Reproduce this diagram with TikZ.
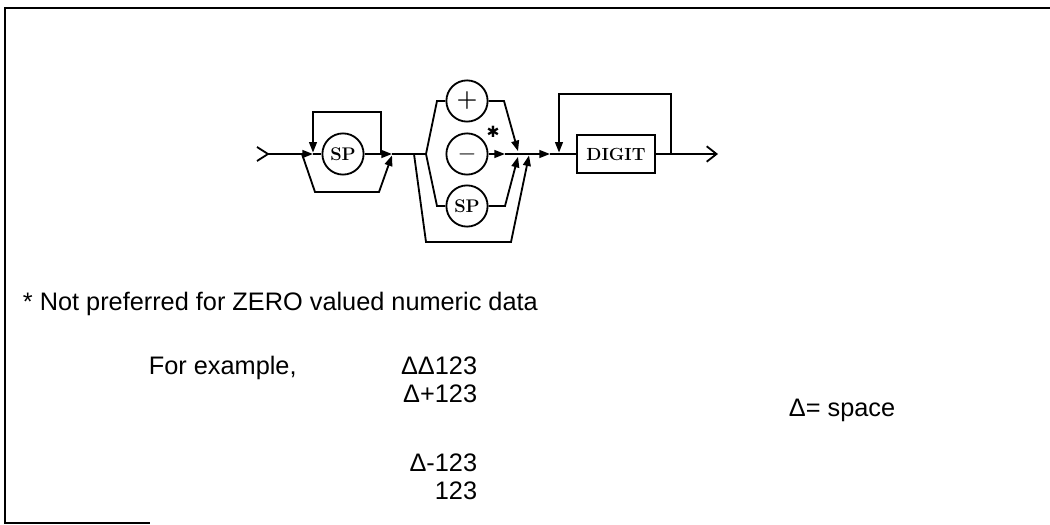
\documentclass[tikz,border=0pt]{standalone}
\usepackage{fontspec}
\newfontfamily\helv{Liberation Sans}
\newfontfamily\symb{DejaVu Sans}
\usetikzlibrary{arrows.meta,positioning}

\begin{document}
\begin{tikzpicture}[x=0.025cm, y=-0.025cm, line width=1.3pt,
  arr/.style={-{Triangle[length=7.5pt,width=5.5pt]}},
  term/.style={circle, draw, minimum size=1.03cm, inner sep=0pt,
    font=\fontsize{13}{15}\selectfont\bfseries},
  sign/.style={term, font=\fontsize{17}{17}\selectfont\bfseries},
  nonterm/.style={rectangle, draw, minimum width=1.95cm, minimum height=0.95cm,
    inner sep=0pt, font=\fontsize{12.5}{15}\selectfont\bfseries},
  note/.style={anchor=base west, inner sep=0pt, font=\helv\fontsize{18}{21}\selectfont},
  example/.style={note, anchor=base east}]
\useasboundingbox (0,0) rectangle (1050,525);

% frame
\draw[line width=1.6pt] (1050,8) -- (5,8) -- (5,523) -- (150,523);

% terms
\node[term] (sp1) at (343,154) {SP};
\node[sign] (plus) at (467,101) {+};
\node[sign] (minus) at (467,154) {$-$};
\node[term] (sp2) at (467,206) {SP};
\node[nonterm] (digit) at (616,154) {DIGIT};
\node[font=\symb\fontsize{11}{11}\selectfont] (star) at (493,132) {✱};

% points on the main line
\coordinate (in) at (268,154);
\coordinate (rep1) at (313,154);
\coordinate (skip1) at (302,154);
\coordinate (back1) at (381,154);
\coordinate (join1) at (392,154);
\coordinate (skip2) at (414,154);
\coordinate (fork) at (426,154);
\coordinate (mid) at (505,154);
\coordinate (join2) at (518,154);
\coordinate (join3) at (529,154);
\coordinate (head) at (550,154);
\coordinate (rep2) at (559,154);
\coordinate (back2) at (671,154);
\coordinate (out) at (718,154);

% entry
\draw (in) ++(-11,-7) -- (in) -- ++(-11,7);
\draw[arr] (in) -- (rep1);
\draw (rep1) -- (sp1);
\draw[arr] (sp1) -- (join1);

% SP loop and bypass
\draw[arr] (back1) -- (381,112) -- (313,112) -- ([yshift=1pt]rep1);
\draw[arr] (skip1) -- (315,192) -- (379,192) -- ([yshift=-1pt]join1);

% sign
\draw (join1) -- (fork);
\draw (fork) -- (437,101) -- (plus);
\draw[arr] (plus) -- (504,101) -- ([yshift=2pt]join2);
\draw[arr] (minus) -- (mid);
\draw (mid) -- (join2);
\draw (fork) -- (437,206) -- (sp2);
\draw[arr] (sp2) -- (505,206) -- ([yshift=-2pt]join2);
\draw[arr] (skip2) -- (426,242) -- (511,242) -- ([yshift=-1pt]join3);

% digits
\draw (join2) -- (join3);
\draw[arr] (join3) -- (head);
\draw (head) -- (digit);
\draw[arr] (back2) -- (671,94) -- (559,94) -- ([yshift=1pt]rep2);
\draw[-{Straight Barb[length=7pt,width=11pt]}] (digit) -- (out);

% notes
\node[note] (foot) at (22,310) {* Not preferred for ZERO valued numeric data};
\node[note] (eg) at (148,374) {For example,};
\node[example] (ex1) at (478,374) {ΔΔ123};
\node[example] (ex2) at (478,402) {Δ+123};
\node[example] (ex3) at (478,471) {Δ-123};
\node[example] (ex4) at (478,499) {123};
\node[note] (key) at (788,416) {Δ= space};
\end{tikzpicture}
\end{document}
